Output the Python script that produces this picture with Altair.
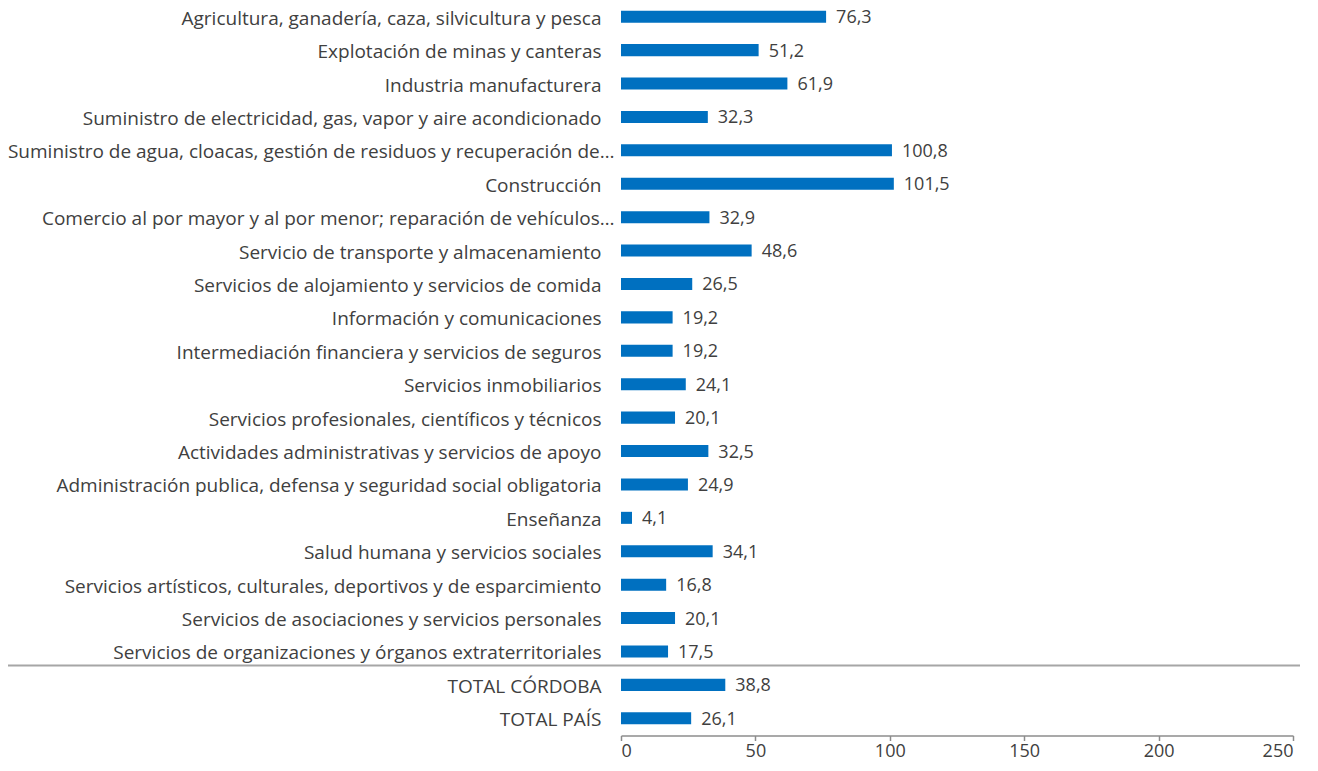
import altair as alt
import pandas as pd

categories = [
    "Agricultura, ganadería, caza, silvicultura y pesca",
    "Explotación de minas y canteras",
    "Industria manufacturera",
    "Suministro de electricidad, gas, vapor y aire acondicionado",
    "Suministro de agua, cloacas, gestión de residuos y recuperación de…",
    "Construcción",
    "Comercio al por mayor y al por menor; reparación de vehículos…",
    "Servicio de transporte y almacenamiento",
    "Servicios de alojamiento y servicios de comida",
    "Información y comunicaciones",
    "Intermediación financiera y servicios de seguros",
    "Servicios inmobiliarios",
    "Servicios profesionales, científicos y técnicos",
    "Actividades administrativas y servicios de apoyo",
    "Administración publica, defensa y seguridad social obligatoria",
    "Enseñanza",
    "Salud humana y servicios sociales",
    "Servicios artísticos, culturales, deportivos y de esparcimiento",
    "Servicios de asociaciones y servicios personales",
    "Servicios de organizaciones y órganos extraterritoriales",
    "TOTAL CÓRDOBA",
    "TOTAL PAÍS",
]
values = [76.3, 51.2, 61.9, 32.3, 100.8, 101.5, 32.9, 48.6, 26.5, 19.2, 19.2,
          24.1, 20.1, 32.5, 24.9, 4.1, 34.1, 16.8, 20.1, 17.5, 38.8, 26.1]
x_ticks = [0, 50, 100, 150, 200, 250]
separator_before = "TOTAL CÓRDOBA"

df = pd.DataFrame({"cat": categories, "v": values})
sep_df = pd.DataFrame({"cat": [separator_before]})

FONT = "Open Sans"
TXT = "#404040"

y_enc = alt.Y("cat:N", sort=categories, title=None,
              scale=alt.Scale(paddingInner=0.64, paddingOuter=0.32),
              axis=alt.Axis(domain=False, ticks=False,
                            labelPadding=alt.expr(
                                "indexof(datum.value, '…') >= 0 ? 7 : 20"),
                            labelOffset=2,
                            labelLimit=0, labelFont=FONT, labelFontSize=19,
                            labelColor=TXT, labelFontWeight="normal"))
x_enc = alt.X("v:Q", title=None,
              scale=alt.Scale(domain=[0, 250], nice=False),
              axis=alt.Axis(values=x_ticks, grid=False, domainColor="#8c8c8c",
                            tickColor="#8c8c8c", tickSize=5, offset=0.5,
                            labelFont=FONT, labelFontSize=18, labelColor=TXT,
                            labelPadding=2, domainWidth=1.5, tickWidth=1.5))

bars = alt.Chart(df).mark_bar(color="#0070C0").encode(y=y_enc, x=x_enc)

labels = alt.Chart(df).transform_calculate(
    lab="replace(format(datum.v, '.1f'), '.', ',')"
).mark_text(align="left", baseline="middle", dx=10, dy=1.5, font=FONT,
            fontSize=18, color=TXT).encode(
    y=alt.Y("cat:N", sort=categories), x="v:Q", text="lab:N")

sep = alt.Chart(sep_df).mark_rule(color="#a6a6a6", strokeWidth=2,
                                  yOffset=-19.5).encode(
    y=alt.Y("cat:N", sort=categories, bandPosition=0.5),
    x=alt.value(-613), x2=alt.value(679))

chart = alt.layer(bars, labels, sep).properties(
    width=672, height=735,
    autosize=alt.AutoSizeParams(type="none"),
    padding={"left": 613, "top": -8, "right": 17, "bottom": 28},
).configure_view(stroke=None)

chart.save("out.html", embed_options={"renderer": "svg", "actions": False})
